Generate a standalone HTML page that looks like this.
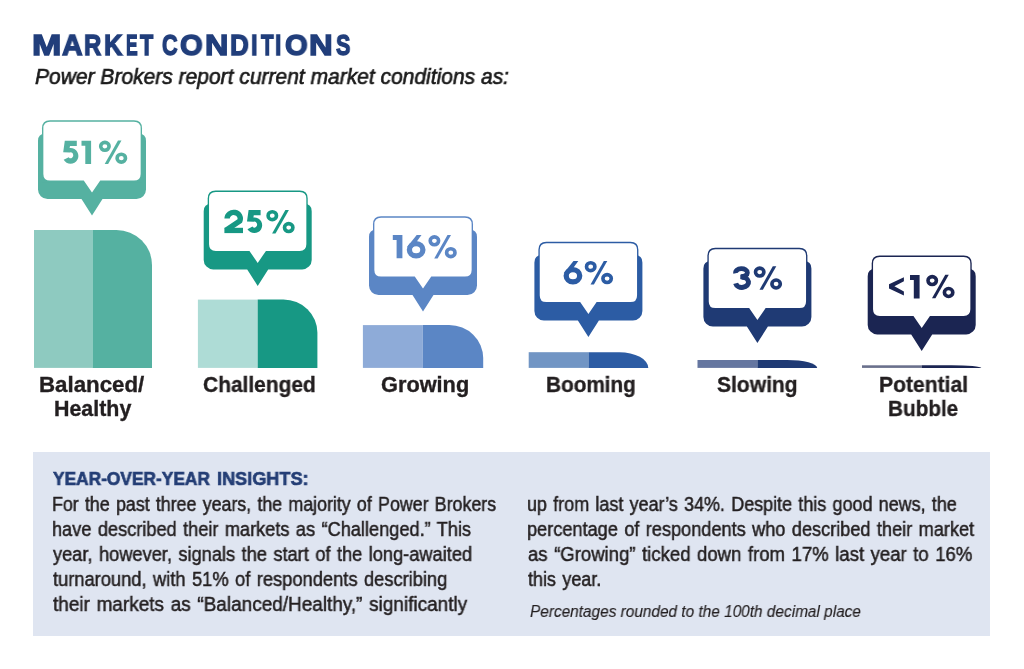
<!DOCTYPE html>
<html><head><meta charset="utf-8"><style>
html,body{margin:0;padding:0;background:#fff;}
body{width:1024px;height:669px;position:relative;overflow:hidden;font-family:"Liberation Sans", sans-serif;}
.t{position:absolute;white-space:nowrap;transform-origin:0 0;will-change:transform;}
svg{position:absolute;left:0;top:0;}
</style></head><body>
<div style="position:absolute;left:33px;top:452px;width:957px;height:183.5px;background:#dfe5f1"></div>
<svg width="1024" height="669" viewBox="0 0 1024 669">
<path fill="#55b1a1" d="M45.50,133.50 H138.50 Q146.00,133.50 146.00,141.00 V189.60 A9.5,9.5 0 0 1 136.50,199.10 H102.50 L92.00,215.60 L81.50,199.10 H47.50 A9.5,9.5 0 0 1 38.00,189.60 V141.00 Q38.00,133.50 45.50,133.50 Z"/>
<path fill="#55b1a1" d="M50.00,120.30 H134.00 Q142.00,120.30 142.00,128.30 V182.30 H42.00 V128.30 Q42.00,120.30 50.00,120.30 Z"/>
<path fill="#fff" d="M50.05,121.65 H133.95 Q140.65,121.65 140.65,128.35 V173.90 Q140.65,180.60 133.95,180.60 H100.25 L92.00,192.60 L83.75,180.60 H50.05 Q43.35,180.60 43.35,173.90 V128.35 Q43.35,121.65 50.05,121.65 Z"/>
<rect x="34.00" y="230.00" width="58.50" height="137.90" fill="#8ecac0"/>
<path fill="#55b1a1" d="M92.50,230.00 H116.50 A35.5,35.00 0 0 1 152.00,265.00 V367.9 H92.50 Z"/>
<path fill="#179884" d="M211.20,203.80 H304.20 Q311.70,203.80 311.70,211.30 V259.90 A9.5,9.5 0 0 1 302.20,269.40 H268.20 L257.70,285.90 L247.20,269.40 H213.20 A9.5,9.5 0 0 1 203.70,259.90 V211.30 Q203.70,203.80 211.20,203.80 Z"/>
<path fill="#179884" d="M215.70,190.60 H299.70 Q307.70,190.60 307.70,198.60 V252.60 H207.70 V198.60 Q207.70,190.60 215.70,190.60 Z"/>
<path fill="#fff" d="M215.75,191.95 H299.65 Q306.35,191.95 306.35,198.65 V244.20 Q306.35,250.90 299.65,250.90 H265.95 L257.70,262.90 L249.45,250.90 H215.75 Q209.05,250.90 209.05,244.20 V198.65 Q209.05,191.95 215.75,191.95 Z"/>
<rect x="197.90" y="299.60" width="59.80" height="68.30" fill="#aedcd6"/>
<path fill="#179884" d="M257.70,299.60 H283.40 A34,33.00 0 0 1 317.40,332.60 V367.9 H257.70 Z"/>
<path fill="#5b86c5" d="M376.50,229.50 H469.50 Q477.00,229.50 477.00,237.00 V285.60 A9.5,9.5 0 0 1 467.50,295.10 H433.50 L423.00,311.60 L412.50,295.10 H378.50 A9.5,9.5 0 0 1 369.00,285.60 V237.00 Q369.00,229.50 376.50,229.50 Z"/>
<path fill="#5b86c5" d="M381.00,216.30 H465.00 Q473.00,216.30 473.00,224.30 V278.30 H373.00 V224.30 Q373.00,216.30 381.00,216.30 Z"/>
<path fill="#fff" d="M381.05,217.65 H464.95 Q471.65,217.65 471.65,224.35 V269.90 Q471.65,276.60 464.95,276.60 H431.25 L423.00,288.60 L414.75,276.60 H381.05 Q374.35,276.60 374.35,269.90 V224.35 Q374.35,217.65 381.05,217.65 Z"/>
<rect x="362.90" y="325.10" width="59.70" height="42.80" fill="#8eabd8"/>
<path fill="#5b86c5" d="M422.60,325.10 H449.20 A34,33.00 0 0 1 483.20,358.10 V367.9 H422.60 Z"/>
<path fill="#2c5ca4" d="M541.90,255.00 H634.90 Q642.40,255.00 642.40,262.50 V311.10 A9.5,9.5 0 0 1 632.90,320.60 H598.90 L588.40,337.10 L577.90,320.60 H543.90 A9.5,9.5 0 0 1 534.40,311.10 V262.50 Q534.40,255.00 541.90,255.00 Z"/>
<path fill="#2c5ca4" d="M546.40,241.80 H630.40 Q638.40,241.80 638.40,249.80 V303.80 H538.40 V249.80 Q538.40,241.80 546.40,241.80 Z"/>
<path fill="#fff" d="M546.45,243.15 H630.35 Q637.05,243.15 637.05,249.85 V295.40 Q637.05,302.10 630.35,302.10 H596.65 L588.40,314.10 L580.15,302.10 H546.45 Q539.75,302.10 539.75,295.40 V249.85 Q539.75,243.15 546.45,243.15 Z"/>
<rect x="528.70" y="352.20" width="59.80" height="15.70" fill="#7195c4"/>
<path fill="#2c5ca4" d="M588.50,352.20 H619.30 A29,15.70 0 0 1 648.30,367.90 V367.9 H588.50 Z"/>
<path fill="#1f3a74" d="M710.90,261.00 H803.90 Q811.40,261.00 811.40,268.50 V317.10 A9.5,9.5 0 0 1 801.90,326.60 H767.90 L757.40,343.10 L746.90,326.60 H712.90 A9.5,9.5 0 0 1 703.40,317.10 V268.50 Q703.40,261.00 710.90,261.00 Z"/>
<path fill="#1f3a74" d="M715.40,247.80 H799.40 Q807.40,247.80 807.40,255.80 V309.80 H707.40 V255.80 Q707.40,247.80 715.40,247.80 Z"/>
<path fill="#fff" d="M715.45,249.15 H799.35 Q806.05,249.15 806.05,255.85 V301.40 Q806.05,308.10 799.35,308.10 H765.65 L757.40,320.10 L749.15,308.10 H715.45 Q708.75,308.10 708.75,301.40 V255.85 Q708.75,249.15 715.45,249.15 Z"/>
<rect x="697.50" y="360.00" width="59.90" height="7.90" fill="#6576a0"/>
<path fill="#1f3a74" d="M757.40,360.00 H787.20 A30,7.90 0 0 1 817.20,367.90 V367.9 H757.40 Z"/>
<path fill="#1b2552" d="M875.20,268.80 H968.20 Q975.70,268.80 975.70,276.30 V324.90 A9.5,9.5 0 0 1 966.20,334.40 H932.20 L921.70,350.90 L911.20,334.40 H877.20 A9.5,9.5 0 0 1 867.70,324.90 V276.30 Q867.70,268.80 875.20,268.80 Z"/>
<path fill="#1b2552" d="M879.70,255.60 H963.70 Q971.70,255.60 971.70,263.60 V317.60 H871.70 V263.60 Q871.70,255.60 879.70,255.60 Z"/>
<path fill="#fff" d="M879.75,256.95 H963.65 Q970.35,256.95 970.35,263.65 V309.20 Q970.35,315.90 963.65,315.90 H929.95 L921.70,327.90 L913.45,315.90 H879.75 Q873.05,315.90 873.05,309.20 V263.65 Q873.05,256.95 879.75,256.95 Z"/>
<rect x="862.00" y="365.30" width="59.70" height="2.60" fill="#6a708c"/>
<path fill="#1b2552" d="M921.70,365.30 H951.30 A30,2.60 0 0 1 981.30,367.90 V367.9 H921.70 Z"/>
<g transform="translate(61.90,140.75) scale(1.0)"><path fill="#55b1a1" d="M2.9,0 H14.9 V5.2 H8.1 L7.7,7.3 H8.6 A7.9,7.85 0 1 1 1.76,19.1 L6.85,16.4 A2.55,3.0 0 1 0 7.93,11.63 L1.3,11.5 Z"/></g>
<g transform="translate(81.50,140.75) scale(1.0)"><path fill="#55b1a1" d="M0,0 H9.6 V23.3 H3.8 V5.0 H0 Z"/></g>
<g transform="translate(98.90,140.50) scale(1.0)"><ellipse fill="none" stroke="#55b1a1" stroke-width="3.6" cx="6.0" cy="5.8" rx="4.2" ry="3.95"/><ellipse fill="none" stroke="#55b1a1" stroke-width="3.6" cx="22.4" cy="17.7" rx="4.2" ry="3.95"/><path fill="#55b1a1" d="M19.1,0 H22.6 L9.2,23.5 H5.8 Z"/></g>
<g transform="translate(224.40,209.70) scale(1.0)"><rect fill="#179884" x="0" y="18.1" width="18.6" height="5.3"/><path fill="none" stroke="#179884" stroke-width="5.4" d="M2.70,8.90 A6.6,6.2 0 1 1 15.42,11.22 L1.6,20.6"/></g>
<g transform="translate(245.70,210.10) scale(1.0)"><path fill="#179884" d="M2.9,0 H14.9 V5.2 H8.1 L7.7,7.3 H8.6 A7.9,7.85 0 1 1 1.76,19.1 L6.85,16.4 A2.55,3.0 0 1 0 7.93,11.63 L1.3,11.5 Z"/></g>
<g transform="translate(266.30,209.90) scale(1.0)"><ellipse fill="none" stroke="#179884" stroke-width="3.6" cx="6.0" cy="5.8" rx="4.2" ry="3.95"/><ellipse fill="none" stroke="#179884" stroke-width="3.6" cx="22.4" cy="17.7" rx="4.2" ry="3.95"/><path fill="#179884" d="M19.1,0 H22.6 L9.2,23.5 H5.8 Z"/></g>
<g transform="translate(392.80,235.00) scale(1.0)"><path fill="#5b86c5" d="M0,0 H9.6 V23.3 H3.8 V5.0 H0 Z"/></g>
<g transform="translate(406.50,234.90) scale(1.0)"><ellipse fill="none" stroke="#5b86c5" stroke-width="5.3" cx="9.65" cy="14.85" rx="6.75" ry="6.2"/><path fill="#5b86c5" d="M10.2,0 H15.0 L5.6,13.2 L0.4,12.4 Z"/></g>
<g transform="translate(428.40,235.00) scale(1.0)"><ellipse fill="none" stroke="#5b86c5" stroke-width="3.6" cx="6.0" cy="5.8" rx="4.2" ry="3.95"/><ellipse fill="none" stroke="#5b86c5" stroke-width="3.6" cx="22.4" cy="17.7" rx="4.2" ry="3.95"/><path fill="#5b86c5" d="M19.1,0 H22.6 L9.2,23.5 H5.8 Z"/></g>
<g transform="translate(563.30,260.90) scale(1.0)"><ellipse fill="none" stroke="#2c5ca4" stroke-width="5.3" cx="9.65" cy="14.85" rx="6.75" ry="6.2"/><path fill="#2c5ca4" d="M10.2,0 H15.0 L5.6,13.2 L0.4,12.4 Z"/></g>
<g transform="translate(584.70,260.90) scale(1.0)"><ellipse fill="none" stroke="#2c5ca4" stroke-width="3.6" cx="6.0" cy="5.8" rx="4.2" ry="3.95"/><ellipse fill="none" stroke="#2c5ca4" stroke-width="3.6" cx="22.4" cy="17.7" rx="4.2" ry="3.95"/><path fill="#2c5ca4" d="M19.1,0 H22.6 L9.2,23.5 H5.8 Z"/></g>
<g transform="translate(732.90,266.20) scale(1.0)"><path fill="none" stroke="#1f3a74" stroke-width="4.8" d="M2.76,6.96 A5.9,4.0 0 1 1 8.09,10.38"/><path fill="none" stroke="#1f3a74" stroke-width="5.0" d="M8.53,11.02 A6.5,5.1 0 1 1 2.74,17.16"/><rect fill="#1f3a74" x="7.4" y="8.4" width="2.6" height="4.6"/></g>
<g transform="translate(753.70,266.30) scale(1.0)"><ellipse fill="none" stroke="#1f3a74" stroke-width="3.6" cx="6.0" cy="5.8" rx="4.2" ry="3.95"/><ellipse fill="none" stroke="#1f3a74" stroke-width="3.6" cx="22.4" cy="17.7" rx="4.2" ry="3.95"/><path fill="#1f3a74" d="M19.1,0 H22.6 L9.2,23.5 H5.8 Z"/></g>
<g transform="translate(889.00,277.20) scale(1.0)"><path fill="#1b2552" d="M14.9,0 V4.1 L5.4,9.15 L14.9,14.2 V18.3 L0,11.2 V7.1 Z"/></g>
<g transform="translate(910.00,275.10) scale(1.0)"><path fill="#1b2552" d="M0,0 H9.6 V23.3 H3.8 V5.0 H0 Z"/></g>
<g transform="translate(926.20,274.80) scale(1.0)"><ellipse fill="none" stroke="#1b2552" stroke-width="3.6" cx="6.0" cy="5.8" rx="4.2" ry="3.95"/><ellipse fill="none" stroke="#1b2552" stroke-width="3.6" cx="22.4" cy="17.7" rx="4.2" ry="3.95"/><path fill="#1b2552" d="M19.1,0 H22.6 L9.2,23.5 H5.8 Z"/></g>
</svg>
<div class="t" style="left:32.15px;top:27.11px;font-size:30.0px;line-height:36.0px;color:#213e7b;font-weight:bold;font-style:normal;transform:scaleX(1.1762);word-spacing:0px;-webkit-text-stroke:1.4px #213e7b">M</div>
<div class="t" style="left:61.75px;top:27.11px;font-size:30.0px;line-height:36.0px;color:#213e7b;font-weight:bold;font-style:normal;transform:scaleX(0.9500);word-spacing:0px;-webkit-text-stroke:1.4px #213e7b">A</div>
<div class="t" style="left:84.11px;top:27.11px;font-size:30.0px;line-height:36.0px;color:#213e7b;font-weight:bold;font-style:normal;transform:scaleX(0.7950);word-spacing:0px;-webkit-text-stroke:1.4px #213e7b">R</div>
<div class="t" style="left:104.00px;top:27.11px;font-size:30.0px;line-height:36.0px;color:#213e7b;font-weight:bold;font-style:normal;transform:scaleX(0.8500);word-spacing:0px;-webkit-text-stroke:1.4px #213e7b">K</div>
<div class="t" style="left:125.64px;top:27.11px;font-size:30.0px;line-height:36.0px;color:#213e7b;font-weight:bold;font-style:normal;transform:scaleX(0.5824);word-spacing:0px;-webkit-text-stroke:1.4px #213e7b">E</div>
<div class="t" style="left:140.10px;top:27.11px;font-size:30.0px;line-height:36.0px;color:#213e7b;font-weight:bold;font-style:normal;transform:scaleX(0.7222);word-spacing:0px;-webkit-text-stroke:1.4px #213e7b">T</div>
<div class="t" style="left:161.67px;top:27.11px;font-size:30.0px;line-height:36.0px;color:#213e7b;font-weight:bold;font-style:normal;transform:scaleX(0.7250);word-spacing:0px;-webkit-text-stroke:1.4px #213e7b">C</div>
<div class="t" style="left:179.93px;top:27.11px;font-size:30.0px;line-height:36.0px;color:#213e7b;font-weight:bold;font-style:normal;transform:scaleX(0.9727);word-spacing:0px;-webkit-text-stroke:1.4px #213e7b">O</div>
<div class="t" style="left:204.54px;top:27.11px;font-size:30.0px;line-height:36.0px;color:#213e7b;font-weight:bold;font-style:normal;transform:scaleX(1.0778);word-spacing:0px;-webkit-text-stroke:1.4px #213e7b">N</div>
<div class="t" style="left:230.06px;top:27.11px;font-size:30.0px;line-height:36.0px;color:#213e7b;font-weight:bold;font-style:normal;transform:scaleX(0.8684);word-spacing:0px;-webkit-text-stroke:1.4px #213e7b">D</div>
<div class="t" style="left:251.34px;top:27.11px;font-size:30.0px;line-height:36.0px;color:#213e7b;font-weight:bold;font-style:normal;transform:scaleX(0.7800);word-spacing:0px;-webkit-text-stroke:1.4px #213e7b">I</div>
<div class="t" style="left:260.80px;top:27.11px;font-size:30.0px;line-height:36.0px;color:#213e7b;font-weight:bold;font-style:normal;transform:scaleX(0.6889);word-spacing:0px;-webkit-text-stroke:1.4px #213e7b">T</div>
<div class="t" style="left:275.38px;top:27.11px;font-size:30.0px;line-height:36.0px;color:#213e7b;font-weight:bold;font-style:normal;transform:scaleX(0.7600);word-spacing:0px;-webkit-text-stroke:1.4px #213e7b">I</div>
<div class="t" style="left:284.63px;top:27.11px;font-size:30.0px;line-height:36.0px;color:#213e7b;font-weight:bold;font-style:normal;transform:scaleX(0.9727);word-spacing:0px;-webkit-text-stroke:1.4px #213e7b">O</div>
<div class="t" style="left:309.31px;top:27.11px;font-size:30.0px;line-height:36.0px;color:#213e7b;font-weight:bold;font-style:normal;transform:scaleX(1.0944);word-spacing:0px;-webkit-text-stroke:1.4px #213e7b">N</div>
<div class="t" style="left:335.80px;top:27.11px;font-size:30.0px;line-height:36.0px;color:#213e7b;font-weight:bold;font-style:normal;transform:scaleX(0.7158);word-spacing:0px;-webkit-text-stroke:1.4px #213e7b">S</div>
<div class="t" style="left:34.73px;top:63.57px;font-size:21.8px;line-height:26.16px;color:#1a1a1a;font-weight:normal;font-style:italic;transform:scaleX(0.9637);word-spacing:0px;-webkit-text-stroke:0.65px #1a1a1a">Power Brokers report current market conditions as:</div>
<div class="t" style="left:39.33px;top:372.94px;font-size:21.3px;line-height:25.56px;color:#231f20;font-weight:bold;font-style:normal;transform:scaleX(1.0467);word-spacing:0px;-webkit-text-stroke:0.35px #231f20">Balanced/</div>
<div class="t" style="left:53.97px;top:396.94px;font-size:21.3px;line-height:25.56px;color:#231f20;font-weight:bold;font-style:normal;transform:scaleX(1.0048);word-spacing:0px;-webkit-text-stroke:0.35px #231f20">Healthy</div>
<div class="t" style="left:202.78px;top:372.94px;font-size:21.3px;line-height:25.56px;color:#231f20;font-weight:bold;font-style:normal;transform:scaleX(0.9822);word-spacing:0px;-webkit-text-stroke:0.35px #231f20">Challenged</div>
<div class="t" style="left:381.38px;top:372.94px;font-size:21.3px;line-height:25.56px;color:#231f20;font-weight:bold;font-style:normal;transform:scaleX(1.0210);word-spacing:0px;-webkit-text-stroke:0.35px #231f20">Growing</div>
<div class="t" style="left:546.30px;top:372.94px;font-size:21.3px;line-height:25.56px;color:#231f20;font-weight:bold;font-style:normal;transform:scaleX(0.9733);word-spacing:0px;-webkit-text-stroke:0.35px #231f20">Booming</div>
<div class="t" style="left:717.47px;top:372.94px;font-size:21.3px;line-height:25.56px;color:#231f20;font-weight:bold;font-style:normal;transform:scaleX(0.9879);word-spacing:0px;-webkit-text-stroke:0.35px #231f20">Slowing</div>
<div class="t" style="left:878.98px;top:372.94px;font-size:21.3px;line-height:25.56px;color:#231f20;font-weight:bold;font-style:normal;transform:scaleX(0.9902);word-spacing:0px;-webkit-text-stroke:0.35px #231f20">Potential</div>
<div class="t" style="left:887.90px;top:396.94px;font-size:21.3px;line-height:25.56px;color:#231f20;font-weight:bold;font-style:normal;transform:scaleX(0.9723);word-spacing:0px;-webkit-text-stroke:0.35px #231f20">Bubble</div>
<div class="t" style="left:53.03px;top:468.00px;font-size:18.6px;line-height:22.32px;color:#243e75;font-weight:bold;font-style:normal;transform:scaleX(0.9318);word-spacing:0px;-webkit-text-stroke:0.65px #243e75">YEAR-OVER-YEAR</div>
<div class="t" style="left:216.95px;top:468.00px;font-size:18.6px;line-height:22.32px;color:#243e75;font-weight:bold;font-style:normal;transform:scaleX(0.9743);word-spacing:0px;-webkit-text-stroke:0.65px #243e75">INSIGHTS:</div>
<div class="t" style="left:51.86px;top:491.77px;font-size:20.0px;line-height:24.0px;color:#231f20;font-weight:normal;font-style:normal;transform:scaleX(0.8895);word-spacing:1.5px;-webkit-text-stroke:0.5px #231f20">For the past three years, the majority of Power Brokers</div>
<div class="t" style="left:51.84px;top:516.67px;font-size:20.0px;line-height:24.0px;color:#231f20;font-weight:normal;font-style:normal;transform:scaleX(0.9089);word-spacing:1.5px;-webkit-text-stroke:0.5px #231f20">have described their markets as “Challenged.” This</div>
<div class="t" style="left:52.75px;top:541.67px;font-size:20.0px;line-height:24.0px;color:#231f20;font-weight:normal;font-style:normal;transform:scaleX(0.9118);word-spacing:1.5px;-webkit-text-stroke:0.5px #231f20">year, however, signals the start of the long-awaited</div>
<div class="t" style="left:52.75px;top:566.97px;font-size:20.0px;line-height:24.0px;color:#231f20;font-weight:normal;font-style:normal;transform:scaleX(0.9147);word-spacing:1.5px;-webkit-text-stroke:0.5px #231f20">turnaround, with 51% of respondents describing</div>
<div class="t" style="left:52.75px;top:591.67px;font-size:20.0px;line-height:24.0px;color:#231f20;font-weight:normal;font-style:normal;transform:scaleX(0.9478);word-spacing:1.5px;-webkit-text-stroke:0.5px #231f20">their markets as “Balanced/Healthy,” significantly</div>
<div class="t" style="left:526.95px;top:491.77px;font-size:20.0px;line-height:24.0px;color:#231f20;font-weight:normal;font-style:normal;transform:scaleX(0.8960);word-spacing:1.5px;-webkit-text-stroke:0.5px #231f20">up from last year’s 34%. Despite this good news, the</div>
<div class="t" style="left:526.94px;top:516.67px;font-size:20.0px;line-height:24.0px;color:#231f20;font-weight:normal;font-style:normal;transform:scaleX(0.9076);word-spacing:1.5px;-webkit-text-stroke:0.5px #231f20">percentage of respondents who described their market</div>
<div class="t" style="left:527.85px;top:541.67px;font-size:20.0px;line-height:24.0px;color:#231f20;font-weight:normal;font-style:normal;transform:scaleX(0.9271);word-spacing:1.5px;-webkit-text-stroke:0.5px #231f20">as “Growing” ticked down from 17% last year to 16%</div>
<div class="t" style="left:527.85px;top:566.97px;font-size:20.0px;line-height:24.0px;color:#231f20;font-weight:normal;font-style:normal;transform:scaleX(0.8989);word-spacing:1.5px;-webkit-text-stroke:0.5px #231f20">this year.</div>
<div class="t" style="left:529.88px;top:601.78px;font-size:16.5px;line-height:19.8px;color:#231f20;font-weight:normal;font-style:italic;transform:scaleX(0.9322);word-spacing:0px;-webkit-text-stroke:0.15px #231f20">Percentages rounded to the 100th decimal place</div>
</body></html>
